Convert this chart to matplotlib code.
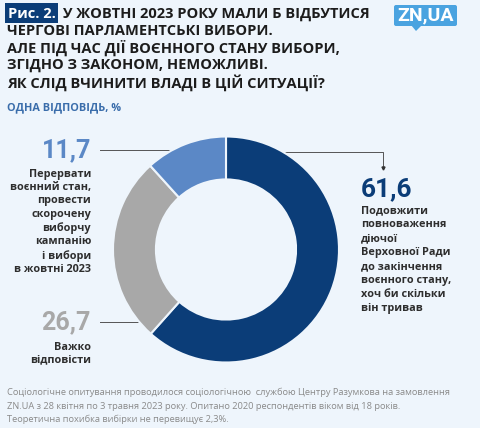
import matplotlib
matplotlib.use("Agg")
import matplotlib.pyplot as plt
from matplotlib.patches import FancyBboxPatch, Polygon

# data
labels = ["Подовжити\nповноваження\nдіючої\nВерховної Ради\nдо закінчення\nвоєнного стану,\nхоч би скільки\nвін тривав",
          "Важко\nвідповісти",
          "Перервати\nвоєнний стан,\nпровести\nскорочену\nвиборчу\nкампанію\nі вибори\nв жовтні 2023"]
values = [61.6, 26.7, 11.7]
value_text = ["61,6", "26,7", "11,7"]
colors = ["#0b3d78", "#a8a8a8", "#5b88c6"]

title_lines = ["У ЖОВТНІ 2023 РОКУ МАЛИ Б ВІДБУТИСЯ",
               "ЧЕРГОВІ ПАРЛАМЕНТСЬКІ ВИБОРИ.",
               "АЛЕ ПІД ЧАС ДІЇ ВОЄННОГО СТАНУ ВИБОРИ,",
               "ЗГІДНО З ЗАКОНОМ, НЕМОЖЛИВІ.",
               "ЯК СЛІД ВЧИНИТИ ВЛАДІ В ЦІЙ СИТУАЦІЇ?"]
subtitle = "ОДНА ВІДПОВІДЬ, %"
note = ("Соціологічне опитування проводилося соціологічною  службою Центру Разумкова на замовлення\n"
        "ZN.UA з 28 квітня по 3 травня 2023 року. Опитано 2020 респондентів віком від 18 років.\n"
        "Теоретична похибка вибірки не перевищує 2,3%.")

bg = "#eef5fc"
plt.rcParams['font.family'] = ['Open Sans', 'DejaVu Sans']

W, H = 480, 428
fig = plt.figure(figsize=(W / 100, H / 100), dpi=100, facecolor=bg)

# overlay in pixel coords
ov = fig.add_axes([0, 0, 1, 1])
ov.set_xlim(0, W)
ov.set_ylim(H, 0)
ov.axis("off")

# donut
cx, cy, r = 226, 249.5, 113
ax = fig.add_axes([(cx - r) / W, (H - cy - r) / H, 2 * r / W, 2 * r / H])
ax.pie(values, colors=colors, startangle=90, counterclock=False,
       wedgeprops=dict(width=0.38, edgecolor=bg, linewidth=1.5))
ax.set_xlim(-1, 1)
ax.set_ylim(-1, 1)
ax.set_aspect("equal")

# header
ov.add_patch(FancyBboxPatch((5, 3), 53, 20, boxstyle="square,pad=0", fc="#0b3d78", ec="none"))
ov.text(31.5, 13.5, "Рис. 2.", color="white", fontsize=10.5, fontweight="bold", ha="center", va="center")
for i, line in enumerate(title_lines):
    ov.text(63 if i == 0 else 7, 13.5 + i * 17.3, line, fontsize=10.5, fontweight="bold",
            color="#1c1c1c", va="center", ha="left")
ov.text(7, 108, subtitle, fontsize=7.8, fontweight="bold", color="#3a6dab", va="center")

# logo
ov.add_patch(FancyBboxPatch((394, 5), 63, 21, boxstyle="round,pad=0,rounding_size=2",
                            fc="#4aa3e0", ec="none"))
ov.add_patch(Polygon([[411, 25], [422, 25], [416, 31]], closed=True, fc="#4aa3e0", ec="none"))
ov.text(425.5, 15.5, "ZN,UA", color="white", fontsize=14, fontweight="bold", ha="center", va="center",
        family="Roboto")

# labels
ov.text(91, 150, value_text[2], fontsize=18, fontweight="bold", color=colors[2], ha="right", va="center",
        family="Roboto")
ov.text(91, 169, labels[2], fontsize=7.8, fontweight="bold", color="#2e2e2e", ha="right", va="top",
        linespacing=1.28)
ov.plot([100, 201], [150, 150], color="#555555", lw=0.7)
ov.plot([201], [150], "o", color="#333333", ms=1.8)

ov.text(91, 322, value_text[1], fontsize=18, fontweight="bold", color=colors[1], ha="right", va="center",
        family="Roboto")
ov.text(91, 342, labels[1], fontsize=7.8, fontweight="bold", color="#2e2e2e", ha="right", va="top",
        linespacing=1.2)
ov.plot([100, 150], [322, 322], color="#555555", lw=0.7)
ov.plot([150], [322], "o", color="#333333", ms=1.8)

ov.plot([258, 383, 383], [152, 152, 167], color="#555555", lw=0.7)
ov.plot([258], [152], "o", color="#222222", ms=1.8)
ov.plot([383], [168], "v", color="#333333", ms=2.2)
ov.text(361, 189, value_text[0], fontsize=19, fontweight="bold", color=colors[0], ha="left", va="center",
        family="Roboto")
ov.text(361, 205, labels[0], fontsize=7.8, fontweight="bold", color="#2e2e2e", ha="left", va="top",
        linespacing=1.38)

# footnote
ov.text(7, 388, note, fontsize=6.65, color="#8a8a8a", ha="left", va="top", linespacing=1.6)

fig.savefig("out.png", dpi=100, facecolor=bg)
